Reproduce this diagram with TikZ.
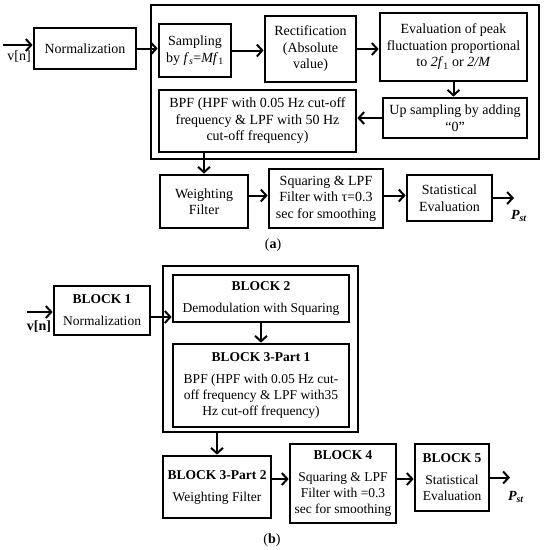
\documentclass[tikz,border=0pt]{standalone}
\usepackage{fontspec}
\setmainfont{Liberation Serif}
\usetikzlibrary{arrows.meta}

\begin{document}
\begin{tikzpicture}[x=1pt,y=-1pt,
    font=\fontsize{14}{16.5}\selectfont,
    blk/.style={draw,line width=2.7pt,align=center,inner sep=1pt},
    blkb/.style={blk,font=\fontsize{13.5}{16}\selectfont},
    frame/.style={draw,line width=2.7pt,inner sep=0pt},
    flow/.style={-{Straight Barb[length=5.5pt,width=12pt]},line width=2pt}]
    \useasboundingbox (0,0) rectangle (545,550);
    % (a)
    \node[frame,minimum width=388,minimum height=154] (stagea) at (345,82) {};
    \node[blk,minimum width=102,minimum height=41] (norm) at (85,48.5) {Normalization};
    \node[blk,minimum width=72,minimum height=53] (samp) at (195,50.5) {Sampling\\by \textit{f}\textsubscript{\textit{s}}=\textit{Mf}\textsubscript{1}};
    \node[blk,minimum width=91,minimum height=66] (rect) at (310.5,49) {Rectification\\(Absolute\\value)};
    \node[blk,minimum width=147,minimum height=68] (eval) at (453.5,47) {Evaluation of peak\\fluctuation proportional\\to \textit{2f}\textsubscript{1} or \textit{2/M}};
    \node[blk,minimum width=144,minimum height=40] (ups) at (455,118) {Up sampling by adding\\“0”};
    \node[blk,minimum width=197,minimum height=62] (bpf) at (257.5,121) {BPF (HPF with 0.05 Hz cut-off\\frequency \& LPF with 50 Hz\\cut-off frequency)};
    \node[blk,minimum width=88,minimum height=53] (wf) at (204,201.5) {Weighting\\Filter};
    \node[blk,minimum width=114,minimum height=59] (sq) at (326,198.5) {Squaring \& LPF\\Filter with τ=0.3\\sec for smoothing};
    \node[blk,minimum width=85,minimum height=46] (stat) at (449.5,198) {Statistical\\Evaluation};
    \coordinate (vina) at (3,45);
    \coordinate (outa) at (514,198);
    \node (vna) at (19,57) {v[n]};
    \node (psta) at (519,216) {\textbf{\textit{P}\textsubscript{\textit{st}}}};
    \node (capa) at (273,245) {(\textbf{a})};
    \draw[flow] (vina) -- (vina -| norm.west);
    \draw[flow] (norm.east) -- (norm.east -| samp.west);
    \draw[flow] (samp.east) -- (samp.east -| rect.west);
    \draw[flow] (rect.east) -- (rect.east -| eval.west);
    \draw[flow] (eval.south) -- (eval.south |- ups.north);
    \draw[flow] (ups.west) -- (ups.west -| bpf.east);
    \draw[flow] (wf.north |- bpf.south) -- (wf.north);
    \draw[flow] ([yshift=6pt]wf.east) -- ([yshift=6pt]wf.east -| sq.west);
    \draw[flow] ([yshift=3pt]sq.east) -- ([yshift=3pt]sq.east -| stat.west);
    \draw[flow] (stat.east) -- (outa);
    % (b)
    \node[frame,minimum width=195,minimum height=166] (stageb) at (260.5,349) {};
    \node[blkb,minimum width=96,minimum height=49] (b1) at (102,310.5) {\textbf{BLOCK 1}\\[6pt]Normalization};
    \node[blkb,minimum width=176,minimum height=47] (b2) at (261,298.5) {\textbf{BLOCK 2}\\[6pt]Demodulation with Squaring};
    \node[blkb,minimum width=176,minimum height=83] (b31) at (261,385.5) {\textbf{BLOCK 3-Part 1}\\[6pt]BPF  (HPF with 0.05 Hz cut-\\off frequency \& LPF with35\\Hz cut-off frequency)};
    \node[blkb,minimum width=108,minimum height=62] (b32) at (217,487) {\textbf{BLOCK 3-Part 2}\\[6pt]Weighting Filter};
    \node[blkb,minimum width=106,minimum height=79] (b4) at (343,483.5) {\textbf{BLOCK 4}\\[6pt]Squaring \& LPF\\Filter with =0.3\\sec for smoothing};
    \node[blkb,minimum width=74,minimum height=67] (b5) at (452,477.5) {\textbf{BLOCK 5}\\[6pt]Statistical\\Evaluation};
    \coordinate (vinb) at (27,312);
    \coordinate (outb) at (510,477.5);
    \node (vnb) at (39,327) {\textbf{v[n]}};
    \node (pstb) at (516,497) {\textbf{\textit{P}\textsubscript{\textit{st}}}};
    \node (capb) at (272,540) {(\textbf{b})};
    \draw[flow] (vinb) -- (vinb -| b1.west);
    \draw[flow] ([yshift=-6.5pt]b1.east) -- ([yshift=-6.5pt]b1.east -| b2.west);
    \draw[flow] (b2.south) -- (b31.north);
    \draw[flow] (b32.north |- stageb.south) -- (b32.north);
    \draw[flow] ([yshift=8pt]b32.east) -- ([yshift=8pt]b32.east -| b4.west);
    \draw[flow] ([yshift=4.5pt]b4.east) -- ([yshift=4.5pt]b4.east -| b5.west);
    \draw[flow] (b5.east) -- (outb);
  \end{tikzpicture}
\end{document}
